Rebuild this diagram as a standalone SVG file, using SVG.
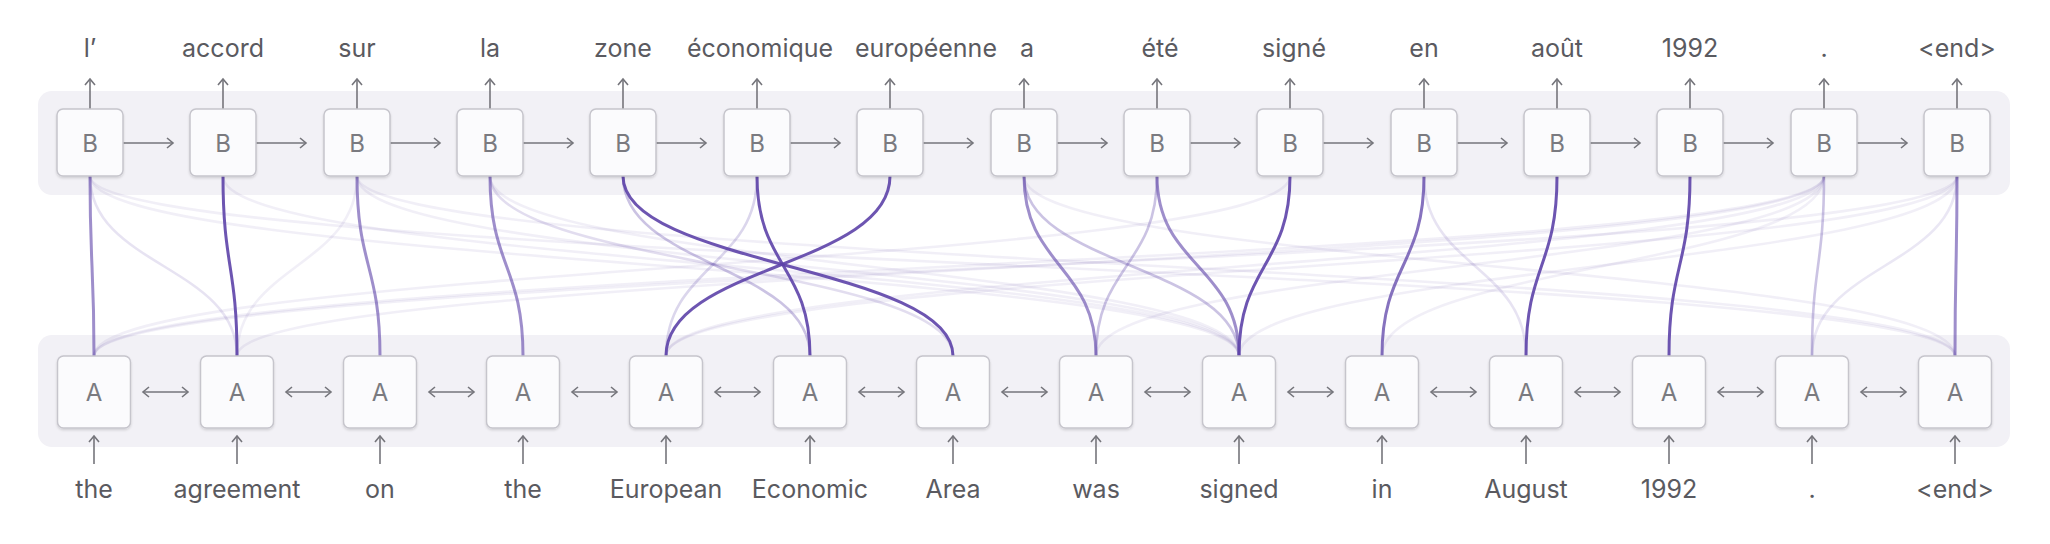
<svg xmlns="http://www.w3.org/2000/svg" width="2050" height="544" viewBox="0 0 2050 544">
<defs>
<style>
.band{fill:#f2f1f6}
.box{fill:#fbfbfd;stroke:#c6c5cc;stroke-width:1.5;filter:url(#sh)}
.lbl{font-family:Inter,"Liberation Sans",sans-serif;font-size:24px;fill:#7a7a80;text-anchor:middle;dominant-baseline:central}
.word{font-family:Inter,"Liberation Sans",sans-serif;font-size:25px;fill:#5a5a60;text-anchor:middle}
.arr{stroke:#75757b;stroke-width:1.6;fill:none;marker-end:url(#ah)}
.bi{marker-start:url(#ah)}
.c{fill:none;stroke:#5d43a8;stroke-width:3}
.s{stroke-opacity:.9}
.m{stroke-opacity:.6}
.l{stroke-opacity:.32;stroke-width:2.6}
.f{stroke-opacity:.085;stroke-width:2.6}
</style>
<marker id="ah" markerUnits="userSpaceOnUse" markerWidth="12" markerHeight="12" refX="7" refY="6" orient="auto-start-reverse">
<path d="M1,1 L7,6 L1,11" fill="none" stroke="#75757b" stroke-width="1.6"/>
</marker>
<filter id="sh" x="-20%" y="-20%" width="140%" height="150%">
<feDropShadow dx="0" dy="1.5" stdDeviation="1.2" flood-color="#000" flood-opacity="0.14"/>
</filter>
</defs>
<rect width="2050" height="544" fill="#ffffff"/>
<g id="bands">
<rect class="band" x="38" y="91" width="1972" height="104" rx="14"/>
<rect class="band" x="38" y="335" width="1972" height="112" rx="14"/>
</g>
<g id="connectors">
<path class="c f" d="M90,176 C90,266 237,266 237,356" style="stroke-opacity:.15"/>
<path class="c f" d="M357,176 C357,266 237,266 237,356"/>
<path class="c f" d="M90,176 C90,266 1239,266 1239,356"/>
<path class="c f" d="M90,176 C90,266 1955,266 1955,356"/>
<path class="c f" d="M223,176 C223,266 1239,266 1239,356"/>
<path class="c f" d="M357,176 C357,266 1239,266 1239,356"/>
<path class="c f" d="M490,176 C490,266 953,266 953,356" style="stroke-opacity:.18"/>
<path class="c f" d="M490,176 C490,266 1239,266 1239,356"/>
<path class="c f" d="M1424,176 C1424,266 1526,266 1526,356" style="stroke-opacity:.15"/>
<path class="c f" d="M1290,176 C1290,266 94,266 94,356"/>
<path class="c f" d="M1824,176 C1824,266 94,266 94,356"/>
<path class="c f" d="M1824,176 C1824,266 237,266 237,356"/>
<path class="c f" d="M1824,176 C1824,266 666,266 666,356"/>
<path class="c f" d="M1824,176 C1824,266 1096,266 1096,356"/>
<path class="c f" d="M1824,176 C1824,266 1382,266 1382,356"/>
<path class="c f" d="M1957,176 C1957,266 94,266 94,356"/>
<path class="c f" d="M1957,176 C1957,266 666,266 666,356"/>
<path class="c f" d="M1957,176 C1957,266 1239,266 1239,356"/>
<path class="c f" d="M1957,176 C1957,266 1812,266 1812,356" style="stroke-opacity:.13"/>
<path class="c f" d="M1024,176 C1024,266 1955,266 1955,356"/>
<path class="c f" d="M357,176 C357,266 1955,266 1955,356"/>
<path class="c l" d="M1157,176 C1157,266 1096,266 1096,356"/>
<path class="c l" d="M1024,176 C1024,266 1239,266 1239,356"/>
<path class="c l" d="M1824,176 C1824,266 1812,266 1812,356"/>
<path class="c l" d="M623,176 C623,266 810,266 810,356"/>
<path class="c l" d="M757,176 C757,266 666,266 666,356" style="stroke-opacity:.22"/>
<path class="c m" d="M90,176 C90,266 94,266 94,356"/>
<path class="c m" d="M357,176 C357,266 380,266 380,356"/>
<path class="c m" d="M490,176 C490,266 523,266 523,356"/>
<path class="c m" d="M1024,176 C1024,266 1096,266 1096,356"/>
<path class="c m" d="M1157,176 C1157,266 1239,266 1239,356"/>
<path class="c m" d="M1424,176 C1424,266 1382,266 1382,356" style="stroke-opacity:.75"/>
<path class="c m" d="M1957,176 C1957,266 1955,266 1955,356"/>
<path class="c s" d="M223,176 C223,266 237,266 237,356"/>
<path class="c s" d="M623,176 C623,266 953,266 953,356"/>
<path class="c s" d="M757,176 C757,266 810,266 810,356"/>
<path class="c s" d="M890,176 C890,266 666,266 666,356"/>
<path class="c s" d="M1290,176 C1290,266 1239,266 1239,356"/>
<path class="c s" d="M1557,176 C1557,266 1526,266 1526,356"/>
<path class="c s" d="M1690,176 C1690,266 1669,266 1669,356"/>
</g>
<g id="arrows">
<path class="arr" d="M123,143 H173"/><path class="arr" d="M256,143 H306"/><path class="arr" d="M390,143 H440"/><path class="arr" d="M523,143 H573"/><path class="arr" d="M656,143 H706"/><path class="arr" d="M790,143 H840"/><path class="arr" d="M923,143 H973"/><path class="arr" d="M1057,143 H1107"/><path class="arr" d="M1190,143 H1240"/><path class="arr" d="M1323,143 H1373"/><path class="arr" d="M1457,143 H1507"/><path class="arr" d="M1590,143 H1640"/><path class="arr" d="M1723,143 H1773"/><path class="arr" d="M1857,143 H1907"/>
<path class="arr bi" d="M143,392 H188"/><path class="arr bi" d="M286,392 H331"/><path class="arr bi" d="M429,392 H474"/><path class="arr bi" d="M572,392 H617"/><path class="arr bi" d="M715,392 H760"/><path class="arr bi" d="M859,392 H904"/><path class="arr bi" d="M1002,392 H1047"/><path class="arr bi" d="M1145,392 H1190"/><path class="arr bi" d="M1288,392 H1333"/><path class="arr bi" d="M1431,392 H1476"/><path class="arr bi" d="M1575,392 H1620"/><path class="arr bi" d="M1718,392 H1763"/><path class="arr bi" d="M1861,392 H1906"/>
<path class="arr" d="M90,109 V79"/><path class="arr" d="M223,109 V79"/><path class="arr" d="M357,109 V79"/><path class="arr" d="M490,109 V79"/><path class="arr" d="M623,109 V79"/><path class="arr" d="M757,109 V79"/><path class="arr" d="M890,109 V79"/><path class="arr" d="M1024,109 V79"/><path class="arr" d="M1157,109 V79"/><path class="arr" d="M1290,109 V79"/><path class="arr" d="M1424,109 V79"/><path class="arr" d="M1557,109 V79"/><path class="arr" d="M1690,109 V79"/><path class="arr" d="M1824,109 V79"/><path class="arr" d="M1957,109 V79"/>
<path class="arr" d="M94,464 V436"/><path class="arr" d="M237,464 V436"/><path class="arr" d="M380,464 V436"/><path class="arr" d="M523,464 V436"/><path class="arr" d="M666,464 V436"/><path class="arr" d="M810,464 V436"/><path class="arr" d="M953,464 V436"/><path class="arr" d="M1096,464 V436"/><path class="arr" d="M1239,464 V436"/><path class="arr" d="M1382,464 V436"/><path class="arr" d="M1526,464 V436"/><path class="arr" d="M1669,464 V436"/><path class="arr" d="M1812,464 V436"/><path class="arr" d="M1955,464 V436"/>
</g>
<g id="B1"><rect class="box" x="57" y="109" width="66" height="67" rx="6"/><text class="lbl" x="90" y="143">B</text><text class="word" x="90" y="57">l’</text></g>
<g id="B2"><rect class="box" x="190" y="109" width="66" height="67" rx="6"/><text class="lbl" x="223" y="143">B</text><text class="word" x="223" y="57">accord</text></g>
<g id="B3"><rect class="box" x="324" y="109" width="66" height="67" rx="6"/><text class="lbl" x="357" y="143">B</text><text class="word" x="357" y="57">sur</text></g>
<g id="B4"><rect class="box" x="457" y="109" width="66" height="67" rx="6"/><text class="lbl" x="490" y="143">B</text><text class="word" x="490" y="57">la</text></g>
<g id="B5"><rect class="box" x="590" y="109" width="66" height="67" rx="6"/><text class="lbl" x="623" y="143">B</text><text class="word" x="623" y="57">zone</text></g>
<g id="B6"><rect class="box" x="724" y="109" width="66" height="67" rx="6"/><text class="lbl" x="757" y="143">B</text><text class="word" x="760" y="57">économique</text></g>
<g id="B7"><rect class="box" x="857" y="109" width="66" height="67" rx="6"/><text class="lbl" x="890" y="143">B</text><text class="word" x="926" y="57">européenne</text></g>
<g id="B8"><rect class="box" x="991" y="109" width="66" height="67" rx="6"/><text class="lbl" x="1024" y="143">B</text><text class="word" x="1027" y="57">a</text></g>
<g id="B9"><rect class="box" x="1124" y="109" width="66" height="67" rx="6"/><text class="lbl" x="1157" y="143">B</text><text class="word" x="1160" y="57">été</text></g>
<g id="B10"><rect class="box" x="1257" y="109" width="66" height="67" rx="6"/><text class="lbl" x="1290" y="143">B</text><text class="word" x="1294" y="57">signé</text></g>
<g id="B11"><rect class="box" x="1391" y="109" width="66" height="67" rx="6"/><text class="lbl" x="1424" y="143">B</text><text class="word" x="1424" y="57">en</text></g>
<g id="B12"><rect class="box" x="1524" y="109" width="66" height="67" rx="6"/><text class="lbl" x="1557" y="143">B</text><text class="word" x="1557" y="57">août</text></g>
<g id="B13"><rect class="box" x="1657" y="109" width="66" height="67" rx="6"/><text class="lbl" x="1690" y="143">B</text><text class="word" x="1690" y="57">1992</text></g>
<g id="B14"><rect class="box" x="1791" y="109" width="66" height="67" rx="6"/><text class="lbl" x="1824" y="143">B</text><text class="word" x="1824" y="57">.</text></g>
<g id="B15"><rect class="box" x="1924" y="109" width="66" height="67" rx="6"/><text class="lbl" x="1957" y="143">B</text><text class="word" x="1957" y="57">&lt;end&gt;</text></g>
<g id="A1"><rect class="box" x="57.5" y="356" width="73" height="72" rx="6"/><text class="lbl" x="94" y="392">A</text><text class="word" x="94" y="498">the</text></g>
<g id="A2"><rect class="box" x="200.5" y="356" width="73" height="72" rx="6"/><text class="lbl" x="237" y="392">A</text><text class="word" x="237" y="498">agreement</text></g>
<g id="A3"><rect class="box" x="343.5" y="356" width="73" height="72" rx="6"/><text class="lbl" x="380" y="392">A</text><text class="word" x="380" y="498">on</text></g>
<g id="A4"><rect class="box" x="486.5" y="356" width="73" height="72" rx="6"/><text class="lbl" x="523" y="392">A</text><text class="word" x="523" y="498">the</text></g>
<g id="A5"><rect class="box" x="629.5" y="356" width="73" height="72" rx="6"/><text class="lbl" x="666" y="392">A</text><text class="word" x="666" y="498">European</text></g>
<g id="A6"><rect class="box" x="773.5" y="356" width="73" height="72" rx="6"/><text class="lbl" x="810" y="392">A</text><text class="word" x="810" y="498">Economic</text></g>
<g id="A7"><rect class="box" x="916.5" y="356" width="73" height="72" rx="6"/><text class="lbl" x="953" y="392">A</text><text class="word" x="953" y="498">Area</text></g>
<g id="A8"><rect class="box" x="1059.5" y="356" width="73" height="72" rx="6"/><text class="lbl" x="1096" y="392">A</text><text class="word" x="1096" y="498">was</text></g>
<g id="A9"><rect class="box" x="1202.5" y="356" width="73" height="72" rx="6"/><text class="lbl" x="1239" y="392">A</text><text class="word" x="1239" y="498">signed</text></g>
<g id="A10"><rect class="box" x="1345.5" y="356" width="73" height="72" rx="6"/><text class="lbl" x="1382" y="392">A</text><text class="word" x="1382" y="498">in</text></g>
<g id="A11"><rect class="box" x="1489.5" y="356" width="73" height="72" rx="6"/><text class="lbl" x="1526" y="392">A</text><text class="word" x="1526" y="498">August</text></g>
<g id="A12"><rect class="box" x="1632.5" y="356" width="73" height="72" rx="6"/><text class="lbl" x="1669" y="392">A</text><text class="word" x="1669" y="498">1992</text></g>
<g id="A13"><rect class="box" x="1775.5" y="356" width="73" height="72" rx="6"/><text class="lbl" x="1812" y="392">A</text><text class="word" x="1812" y="498">.</text></g>
<g id="A14"><rect class="box" x="1918.5" y="356" width="73" height="72" rx="6"/><text class="lbl" x="1955" y="392">A</text><text class="word" x="1955" y="498">&lt;end&gt;</text></g>
</svg>
